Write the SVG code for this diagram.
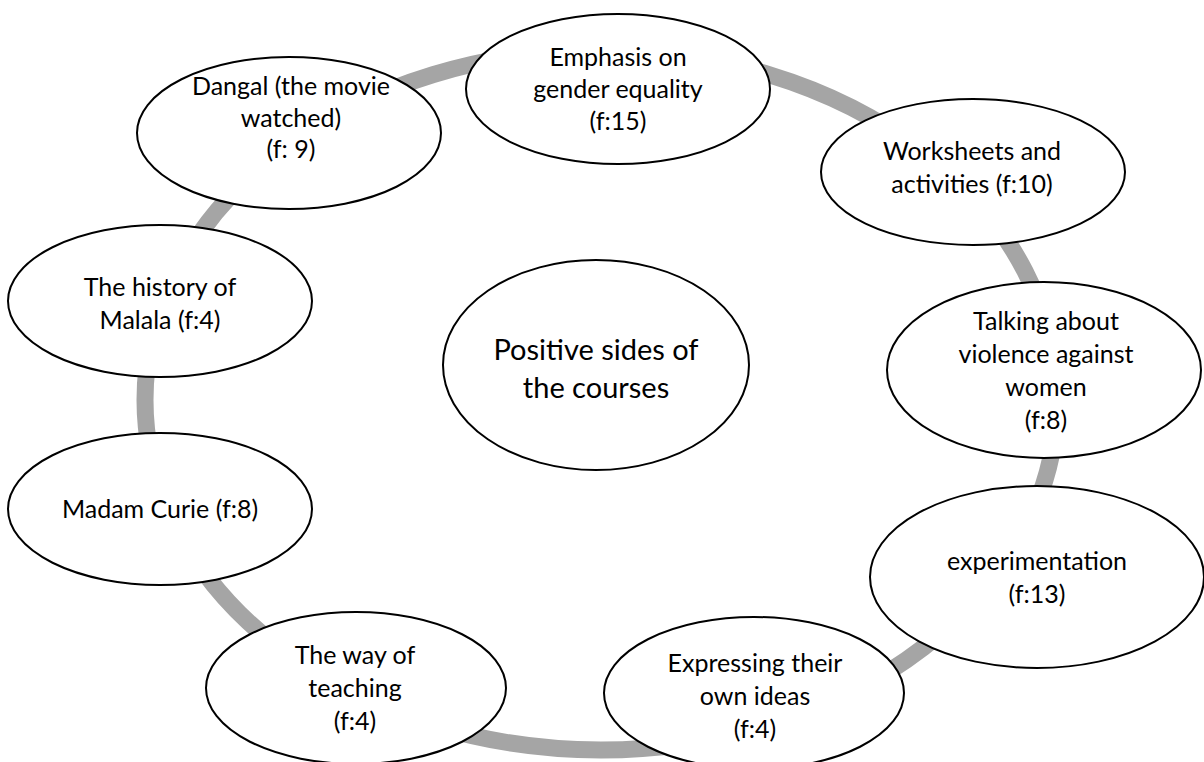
<svg xmlns="http://www.w3.org/2000/svg" width="1204" height="762" viewBox="0 0 1204 762">
<style>
.node{fill:#ffffff;stroke:#000000;stroke-width:2}
.t{font-family:Lato,"Liberation Sans",sans-serif;font-size:25px;fill:#000000;text-anchor:middle}
.c{font-size:29px}
.ring{fill:none;stroke:#a5a5a5;stroke-width:17}
</style>
<rect width="1204" height="762" fill="#ffffff"/>
<g id="connectors">
<ellipse class="ring" cx="601" cy="400" rx="456" ry="350"/>
</g>
<g id="n-emphasis">
<ellipse class="node" cx="618" cy="89" rx="152" ry="75"/>
<text class="t" x="618" y="66">Emphasis on</text>
<text class="t" x="618" y="98">gender equality</text>
<text class="t" x="618" y="130">(f:15)</text>
</g>
<g id="n-worksheets">
<ellipse class="node" cx="973" cy="172" rx="152" ry="73"/>
<text class="t" x="972" y="160">Worksheets and</text>
<text class="t" x="972" y="193">activities (f:10)</text>
</g>
<g id="n-talking">
<ellipse class="node" cx="1044" cy="370" rx="157" ry="88"/>
<text class="t" x="1046" y="330">Talking about</text>
<text class="t" x="1046" y="363">violence against</text>
<text class="t" x="1046" y="396">women</text>
<text class="t" x="1046" y="429">(f:8)</text>
</g>
<g id="n-experimentation">
<ellipse class="node" cx="1037" cy="577" rx="167" ry="91"/>
<text class="t" x="1037" y="570">experimentation</text>
<text class="t" x="1037" y="603">(f:13)</text>
</g>
<g id="n-expressing">
<ellipse class="node" cx="754" cy="693" rx="150" ry="76"/>
<text class="t" x="755" y="672">Expressing their</text>
<text class="t" x="755" y="705">own ideas</text>
<text class="t" x="755" y="738">(f:4)</text>
</g>
<g id="n-teaching">
<ellipse class="node" cx="356" cy="688" rx="150" ry="76"/>
<text class="t" x="355" y="664">The way of</text>
<text class="t" x="355" y="697">teaching</text>
<text class="t" x="355" y="730">(f:4)</text>
</g>
<g id="n-curie">
<ellipse class="node" cx="160" cy="509" rx="152" ry="76"/>
<text class="t" x="160" y="518">Madam Curie (f:8)</text>
</g>
<g id="n-malala">
<ellipse class="node" cx="160" cy="301" rx="152" ry="76"/>
<text class="t" x="160" y="296">The history of</text>
<text class="t" x="160" y="329">Malala (f:4)</text>
</g>
<g id="n-dangal">
<ellipse class="node" cx="289" cy="133" rx="152" ry="76"/>
<text class="t" x="291" y="95">Dangal (the movie</text>
<text class="t" x="291" y="127">watched)</text>
<text class="t" x="291" y="158">(f: 9)</text>
</g>
<g id="n-center">
<ellipse class="node" cx="596" cy="365" rx="153" ry="105"/>
<text class="t c" x="596" y="360">Positive sides of</text>
<text class="t c" x="596" y="398">the courses</text>
</g>
</svg>
